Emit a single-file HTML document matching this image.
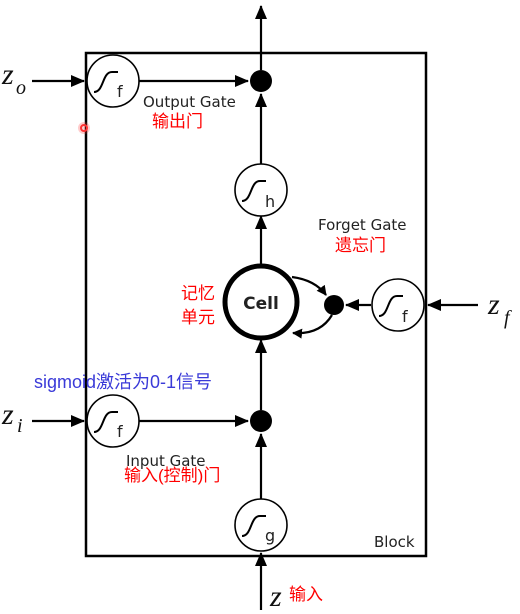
<!DOCTYPE html>
<html><head><meta charset="utf-8"><style>
body{margin:0;background:#fff;}
svg{display:block;}
.t{font-family:"DejaVu Sans","Liberation Sans",sans-serif;fill:#222;}
.r{font-family:"Liberation Sans","Noto Sans CJK SC",sans-serif;fill:#f00;}
.z{font-family:"Liberation Serif",serif;font-style:italic;fill:#111;}
</style></head><body>
<svg width="520" height="614" viewBox="0 0 520 614" xmlns="http://www.w3.org/2000/svg">
<defs>
<marker id="a" markerWidth="10" markerHeight="10" refX="9" refY="5" orient="auto" markerUnits="userSpaceOnUse"><path d="M0,0 L10,5 L0,10 Z" fill="#000"/></marker>
<marker id="b" markerWidth="14" markerHeight="14" refX="13" refY="6" orient="auto" markerUnits="userSpaceOnUse"><path d="M0,0 L14,6 L0,12 Z" fill="#000"/></marker>
<g id="sig"><path d="M-14,10 C-4,10 -6,-10 4,-10 L10,-10" fill="none" stroke="#000" stroke-width="2"/></g>
</defs>
<g stroke="#000" stroke-width="2.5" fill="none">
<rect x="86" y="53" width="340" height="503"/>
</g>
<g stroke="#000" stroke-width="2.2" fill="none">
<line x1="261" y1="70" x2="261" y2="6" marker-end="url(#b)"/>
<line x1="32" y1="81" x2="84" y2="81" marker-end="url(#b)"/>
<line x1="139" y1="81" x2="248" y2="81" marker-end="url(#b)"/>
<line x1="261" y1="164" x2="261" y2="94" marker-end="url(#b)"/>
<line x1="261" y1="265" x2="261" y2="216" marker-end="url(#b)"/>
<line x1="261" y1="410" x2="261" y2="340" marker-end="url(#b)"/>
<line x1="32" y1="421" x2="84" y2="421" marker-end="url(#b)"/>
<line x1="139" y1="421" x2="248" y2="421" marker-end="url(#b)"/>
<line x1="261" y1="499" x2="261" y2="434" marker-end="url(#b)"/>
<line x1="261" y1="610" x2="261" y2="553" marker-end="url(#b)"/>
<line x1="478" y1="305" x2="428" y2="305" marker-end="url(#b)"/>
<line x1="371" y1="305" x2="346" y2="305" marker-end="url(#b)"/>
<path d="M292,277 Q315,280 326,295" marker-end="url(#a)"/>
<path d="M332,315 Q320,335 293,333" marker-end="url(#a)"/>
</g>
<g fill="#fff" stroke="#000" stroke-width="1.6">
<circle cx="113" cy="81" r="26"/>
<circle cx="261" cy="190" r="26"/>
<circle cx="113" cy="421" r="26"/>
<circle cx="261" cy="525" r="26"/>
<circle cx="398" cy="305" r="26"/>
</g>
<circle cx="261" cy="302" r="36" fill="#fff" stroke="#000" stroke-width="5"/>
<g fill="#000"><circle cx="261" cy="81" r="11"/><circle cx="261" cy="421" r="11"/><circle cx="334" cy="305" r="10"/></g>
<use href="#sig" x="108" y="82"/><use href="#sig" x="256" y="191"/><use href="#sig" x="108" y="422"/><use href="#sig" x="256" y="526"/><use href="#sig" x="393" y="306"/>
<g class="t" font-size="16">
<text x="117" y="97">f</text><text x="265" y="207">h</text><text x="117" y="437">f</text><text x="265" y="541">g</text><text x="402" y="322">f</text>
</g>
<text x="261" y="309" class="t" font-size="17" font-weight="bold" text-anchor="middle" fill="#000">Cell</text>
<g class="t" font-size="15">
<text x="143" y="107">Output Gate</text>
<text x="318" y="230">Forget Gate</text>
<text x="126" y="466">Input Gate</text>
<text x="374" y="547">Block</text>
</g>
<g class="r" font-size="17">
<text x="152" y="127">输出门</text>
<text x="335" y="251">遗忘门</text>
<text x="181" y="299">记忆</text>
<text x="181" y="323">单元</text>
<text x="124" y="481">输入(控制)门</text>
<text x="289" y="600">输入</text>
</g>
<text x="34" y="388" font-family="Liberation Sans,'Noto Sans CJK SC',sans-serif" font-size="18" fill="#3a3ad8">sigmoid激活为0-1信号</text>
<g class="z" font-size="30">
<text x="2" y="84">z</text><text x="16" y="94" font-size="20">o</text>
<text x="2" y="424">z</text><text x="17" y="432" font-size="20">i</text>
<text x="488" y="314">z</text><text x="504" y="324" font-size="20">f</text>
<text x="270" y="606">z</text>
</g>
<circle cx="84" cy="128" r="3" fill="none" stroke="#f33" stroke-width="2"/>
<circle cx="84" cy="128" r="6" fill="#f33" opacity="0.25"/>
</svg>
</body></html>
